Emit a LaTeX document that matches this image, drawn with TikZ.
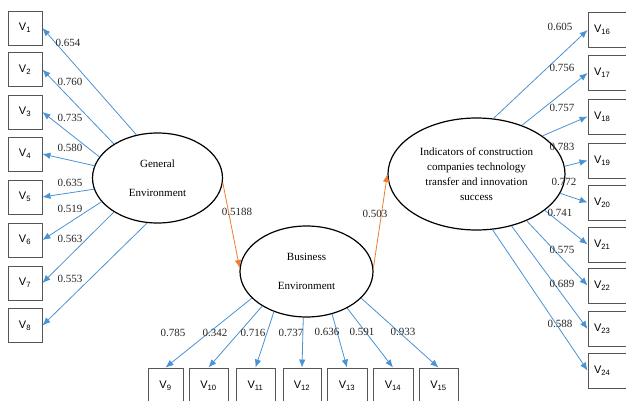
\documentclass[tikz,border=0pt]{standalone}
\usepackage{fontspec}
\setmainfont{Liberation Serif}
\newfontfamily\vsans{Liberation Sans}
\usetikzlibrary{arrows.meta,shapes.geometric}
\definecolor{arrblue}{RGB}{74,146,210}
\definecolor{arrorange}{RGB}{237,125,49}
\definecolor{boxgray}{RGB}{85,85,85}
\tikzset{
  vbox/.style={draw=boxgray, line width=0.9pt, minimum width=34pt, minimum height=34pt, inner sep=0pt, font=\vsans\fontsize{11}{13}\selectfont},
  rbox/.style={vbox, minimum width=48pt, minimum height=35pt, text width=36pt, align=left},
  latent/.style={ellipse, draw=black, line width=1.2pt, inner sep=0pt, align=center, font=\fontsize{11}{15}\selectfont},
  load/.style={draw=arrblue, line width=0.8pt, -{Latex[length=8pt,width=6.5pt]}},
  causal/.style={draw=arrorange, line width=0.8pt, -{Latex[length=8pt,width=6.5pt]}},
  coef/.style={font=\fontsize{11}{13}\selectfont, inner sep=0pt, text=black!85}
}
\begin{document}
\begin{tikzpicture}[x=1pt,y=-1pt]
\useasboundingbox (0,0) rectangle (626,401);
% latent variables
\node[latent, minimum width=130pt, minimum height=90pt] (GE) at (157.5,178) {General\\[14pt]Environment};
\node[latent, minimum width=133pt, minimum height=91pt] (BE) at (306.5,271.5) {Business\\[14pt]Environment};
\node[latent, minimum width=177pt, minimum height=112pt] (IND) at (476.5,174) {Indicators of construction\\companies technology\\transfer and innovation\\success};
% left boxes
\node[vbox] (v1) at (25,28) {V\textsubscript{1}};
\node[vbox] (v2) at (25,69.5) {V\textsubscript{2}};
\node[vbox] (v3) at (25,112) {V\textsubscript{3}};
\node[vbox] (v4) at (25,154) {V\textsubscript{4}};
\node[vbox] (v5) at (25,197) {V\textsubscript{5}};
\node[vbox] (v6) at (25,240) {V\textsubscript{6}};
\node[vbox] (v7) at (25,283) {V\textsubscript{7}};
\node[vbox] (v8) at (25,325.5) {V\textsubscript{8}};
% bottom boxes
\node[vbox, minimum width=35pt, minimum height=36pt] (v9) at (165.5,386) {V\textsubscript{9}};
\node[vbox, minimum width=39pt, minimum height=36pt] (v10) at (208.5,386) {V\textsubscript{10}};
\node[vbox, minimum width=39pt, minimum height=36pt] (v11) at (255.5,386) {V\textsubscript{11}};
\node[vbox, minimum width=38pt, minimum height=36pt] (v12) at (302,386) {V\textsubscript{12}};
\node[vbox, minimum width=40pt, minimum height=36pt] (v13) at (347,386) {V\textsubscript{13}};
\node[vbox, minimum width=40pt, minimum height=36pt] (v14) at (393,386) {V\textsubscript{14}};
\node[vbox, minimum width=39pt, minimum height=36pt] (v15) at (438.5,386) {V\textsubscript{15}};
% right boxes (cut by the right margin)
\node[rbox] (v16) at (612,30) {V\textsubscript{16}};
\node[rbox] (v17) at (612,73) {V\textsubscript{17}};
\node[rbox] (v18) at (612,116.5) {V\textsubscript{18}};
\node[rbox] (v19) at (612,160.5) {V\textsubscript{19}};
\node[rbox] (v20) at (612,202.5) {V\textsubscript{20}};
\node[rbox] (v21) at (612,244.5) {V\textsubscript{21}};
\node[rbox] (v22) at (612,285.5) {V\textsubscript{22}};
\node[rbox] (v23) at (612,329) {V\textsubscript{23}};
\node[rbox] (v24) at (612,370.5) {V\textsubscript{24}};
% loadings: general environment
\draw[load] (GE.116) -- (v1.east);
\draw[load] (GE.142) -- (v2.east);
\draw[load] (GE.160) -- (v3.east);
\draw[load] (GE.169.5) -- (v4.east);
\draw[load] (GE.190.5) -- (v5.east);
\draw[load] (GE.203.5) -- (v6.east);
\draw[load] (GE.218.7) -- (v7.east);
\draw[load] (GE.257) -- (v8.east);
% loadings: business environment
\draw[load] (BE.206.8) -- (v9.north);
\draw[load] (BE.218.6) -- (v10.north);
\draw[load] (BE.231.3) -- (v11.north);
\draw[load] (BE.266) -- (v12.north);
\draw[load] (BE.301.6) -- (v13.north);
\draw[load] (BE.318.7) -- (v14.north);
\draw[load] (BE.334.5) -- (v15.north);
% loadings: indicators
\draw[load] (IND.73.6) -- (v16.west);
\draw[load] (IND.47.6) -- (v17.west);
\draw[load] (IND.30.4) -- (v18.west);
\draw[load] (IND.5.9) -- (v19.west);
\draw[load] (IND.347.8) -- (v20.west);
\draw[load] (IND.332.9) -- (v21.west);
\draw[load] (IND.317.7) -- (v22.west);
\draw[load] (IND.304.8) -- (v23.west);
\draw[load] (IND.286.4) -- (v24.west);
% structural paths
\draw[causal] (GE.356.6) -- (BE.177);
\draw[causal] (BE.3) -- (IND.180);
% coefficients
\node[coef] (c1) at (68,43) {0.654};
\node[coef] (c2) at (70,82) {0.760};
\node[coef] (c3) at (70,118) {0.735};
\node[coef] (c4) at (70,148) {0.580};
\node[coef] (c5) at (70,183) {0.635};
\node[coef] (c6) at (70,209) {0.519};
\node[coef] (c7) at (70,239) {0.563};
\node[coef] (c8) at (70,279) {0.553};
\node[coef] (c9) at (173,333) {0.785};
\node[coef] (c10) at (215,333) {0.342};
\node[coef] (c11) at (253,333) {0.716};
\node[coef] (c12) at (291,333) {0.737};
\node[coef] (c13) at (327,332) {0.636};
\node[coef] (c14) at (362,332) {0.591};
\node[coef] (c15) at (403,332) {0.933};
\node[coef] (c16) at (560,27) {0.605};
\node[coef] (c17) at (562,68) {0.756};
\node[coef] (c18) at (562,108) {0.757};
\node[coef] (c19) at (562,147) {0.783};
\node[coef] (c20) at (564,182) {0.772};
\node[coef] (c21) at (560,213) {0.741};
\node[coef] (c22) at (562,250) {0.575};
\node[coef] (c23) at (562,284) {0.689};
\node[coef] (c24) at (560,324) {0.588};
\node[coef] (c25) at (237,212) {0.5188};
\node[coef] (c26) at (375,214) {0.503};
\end{tikzpicture}
\end{document}
